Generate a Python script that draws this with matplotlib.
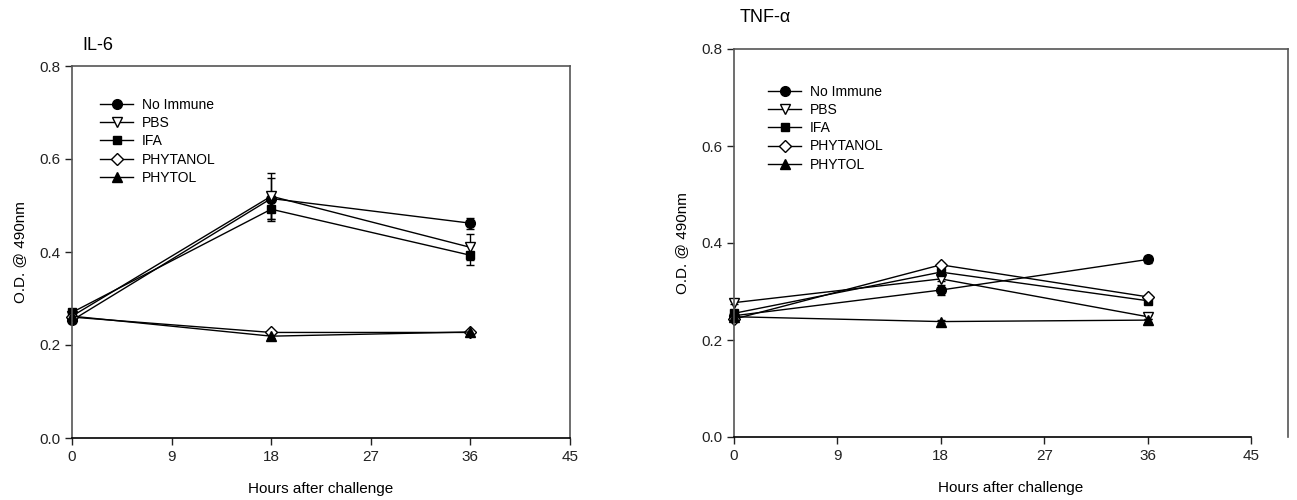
import numpy as np
import matplotlib
matplotlib.use("Agg")
import matplotlib.pyplot as plt

plt.rcParams['font.family'] = ['Liberation Sans', 'DejaVu Sans']

hours = [0, 18, 36]
groups = ["No Immune", "PBS", "IFA", "PHYTANOL", "PHYTOL"]

# IL-6 values (O.D. @ 490nm)
il6_no_immune = [0.253, 0.515, 0.462]
il6_pbs = [0.262, 0.520, 0.410]
il6_ifa = [0.270, 0.492, 0.393]
il6_phytanol = [0.260, 0.227, 0.227]
il6_phytol = [0.262, 0.219, 0.228]

il6_no_immune_err = [0.005, 0.045, 0.012]
il6_pbs_err = [0.004, 0.050, 0.028]
il6_ifa_err = [0.004, 0.025, 0.022]
il6_phytanol_err = [0.003, 0.004, 0.003]
il6_phytol_err = [0.003, 0.004, 0.003]

# TNF-alpha values
tnf_no_immune = [0.250, 0.303, 0.366]
tnf_pbs = [0.277, 0.326, 0.248]
tnf_ifa = [0.255, 0.340, 0.281]
tnf_phytanol = [0.243, 0.355, 0.289]
tnf_phytol = [0.248, 0.238, 0.241]

tnf_no_immune_err = [0.004, 0.011, 0.007]
tnf_pbs_err = [0.003, 0.005, 0.004]
tnf_ifa_err = [0.003, 0.006, 0.004]
tnf_phytanol_err = [0.003, 0.004, 0.003]
tnf_phytol_err = [0.003, 0.003, 0.003]

styles = [
    dict(marker='o', mfc='black', ms=7),
    dict(marker='v', mfc='white', ms=7),
    dict(marker='s', mfc='black', ms=6),
    dict(marker='D', mfc='white', ms=6),
    dict(marker='^', mfc='black', ms=7),
]

W, H = 1297, 500
fig = plt.figure(figsize=(12.97, 5.0), dpi=100)


def px_axes(x0, x1, ytop, ybot):
    return fig.add_axes([x0 / W, 1 - ybot / H, (x1 - x0) / W, (ybot - ytop) / H])


def draw(ax, series, errs, title, title_xy, leg_xy, xmax):
    handles = []
    for name, vals, err, st in zip(groups, series, errs, styles):
        c = ax.errorbar(hours, vals, yerr=err, color='black', lw=1, mec='black',
                        capsize=3, capthick=1, elinewidth=1, label=name, **st)
        c[0].set_clip_on(False)
        for a in c[1] + c[2]:
            a.set_clip_on(False)
        handles.append(c[0])
    ax.set_xlim(0, xmax)
    ax.set_ylim(0, 0.8)
    ax.set_xticks([0, 9, 18, 27, 36, 45])
    ax.set_yticks([0.0, 0.2, 0.4, 0.6, 0.8])
    ax.set_yticklabels(["0.0", "0.2", "0.4", "0.6", "0.8"])
    ax.tick_params(labelsize=11, length=5, width=1, colors='#222222', direction='out')
    for s in ax.spines.values():
        s.set_color('#555555')
        s.set_linewidth(1.2)
    ax.spines['bottom'].set_color('black')
    ax.spines['bottom'].set_bounds(0, 45)
    ax.set_xlabel("Hours after challenge", fontsize=11, labelpad=13)
    ax.set_ylabel("O.D. @ 490nm", fontsize=11, labelpad=9)
    fig.text(title_xy[0] / W, 1 - title_xy[1] / H, title, fontsize=13, va='center')
    ax.legend(handles=handles, labels=groups, loc='upper left',
              bbox_to_anchor=(leg_xy[0] / W, 1 - leg_xy[1] / H),
              bbox_transform=fig.transFigure, frameon=False, fontsize=10,
              handlelength=2.4, handletextpad=0.6, labelspacing=0.3,
              borderpad=0, borderaxespad=0)


ax1 = px_axes(72, 570, 66, 438)
draw(ax1,
     [il6_no_immune, il6_pbs, il6_ifa, il6_phytanol, il6_phytol],
     [il6_no_immune_err, il6_pbs_err, il6_ifa_err, il6_phytanol_err, il6_phytol_err],
     "IL-6", (82, 45), (100, 98), 45)

ax2 = px_axes(734, 1288, 49, 437)
draw(ax2,
     [tnf_no_immune, tnf_pbs, tnf_ifa, tnf_phytanol, tnf_phytol],
     [tnf_no_immune_err, tnf_pbs_err, tnf_ifa_err, tnf_phytanol_err, tnf_phytol_err],
     "TNF-\u03b1", (740, 18), (768, 85), 45 * (1288 - 734) / (1251 - 734))

fig.savefig("out.png", dpi=100)
